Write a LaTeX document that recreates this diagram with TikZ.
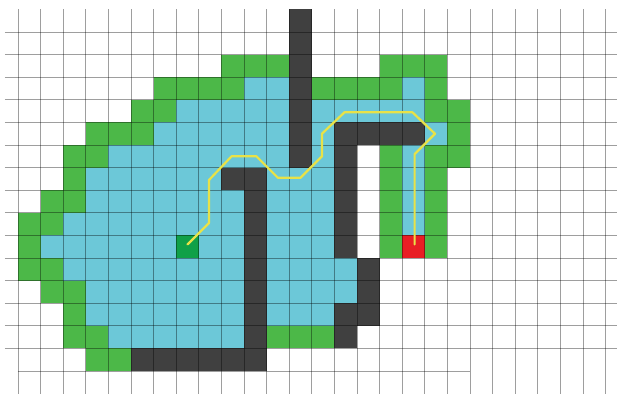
\documentclass[tikz,border=0pt]{standalone}
\definecolor{cellblue}{RGB}{108,200,216}
\definecolor{cellgreen}{RGB}{76,184,72}
\definecolor{wallgray}{RGB}{64,64,64}
\definecolor{goalred}{RGB}{232,30,36}
\definecolor{startgreen}{RGB}{16,160,72}
\definecolor{pathyellow}{RGB}{232,226,72}
\newcommand\cellrow[3]{\foreach \c in {#3}{\fill[#1] (\c,{-(#2)}) rectangle ++(1,-1);}}
\begin{document}
\begin{tikzpicture}[x=0.5cm,y=0.5cm,
  opencell/.style={cellgreen},
  closedcell/.style={cellblue},
  wallcell/.style={wallgray},
  startcell/.style={startgreen},
  goalcell/.style={goalred},
  gridline/.style={draw=black,draw opacity=0.38,line width=0.6pt},
  route/.style={draw=pathyellow,line width=1.4pt,line join=round,line cap=round}]
\useasboundingbox[fill=white] (-0.796,1.416) rectangle (26.504,-16.018);
% walls
\foreach \r in {-1,...,5}{\cellrow{wallcell}{\r}{12}}
\cellrow{wallcell}{4}{14,15,16,17}
\foreach \r in {5,...,9}{\cellrow{wallcell}{\r}{14}}
\cellrow{wallcell}{6}{9,10}
\foreach \r in {7,...,14}{\cellrow{wallcell}{\r}{10}}
\cellrow{wallcell}{14}{5,6,7,8,9}
\cellrow{wallcell}{10}{15}
\cellrow{wallcell}{11}{15}
\cellrow{wallcell}{12}{14,15}
\cellrow{wallcell}{13}{14}
% open (green) cells
\cellrow{opencell}{1}{9,10,11,16,17,18}
\cellrow{opencell}{2}{6,7,8,9,13,14,15,16,18}
\cellrow{opencell}{3}{5,6,18,19}
\cellrow{opencell}{4}{3,4,5,19}
\cellrow{opencell}{5}{2,3,16,18,19}
\cellrow{opencell}{6}{2,16,18}
\cellrow{opencell}{7}{1,2,16,18}
\cellrow{opencell}{8}{0,1,16,18}
\cellrow{opencell}{9}{0,16,18}
\cellrow{opencell}{10}{0,1}
\cellrow{opencell}{11}{1,2}
\cellrow{opencell}{12}{2}
\cellrow{opencell}{13}{2,3,11,12,13}
\cellrow{opencell}{14}{3,4}
% closed (blue) cells
\cellrow{closedcell}{2}{10,11,17}
\cellrow{closedcell}{3}{7,8,9,10,11,13,14,15,16,17}
\cellrow{closedcell}{4}{6,7,8,9,10,11,13,18}
\cellrow{closedcell}{5}{4,5,6,7,8,9,10,11,13,17}
\cellrow{closedcell}{6}{3,4,5,6,7,8,11,12,13,17}
\cellrow{closedcell}{7}{3,4,5,6,7,8,9,11,12,13,17}
\cellrow{closedcell}{8}{2,3,4,5,6,7,8,9,11,12,13,17}
\cellrow{closedcell}{9}{1,2,3,4,5,6,8,9,11,12,13}
\cellrow{closedcell}{10}{2,3,4,5,6,7,8,9,11,12,13,14}
\cellrow{closedcell}{11}{3,4,5,6,7,8,9,11,12,13,14}
\cellrow{closedcell}{12}{3,4,5,6,7,8,9,11,12,13}
\cellrow{closedcell}{13}{4,5,6,7,8,9}
% start and goal
\cellrow{startcell}{9}{7}
\cellrow{goalcell}{9}{17}
% grid
\foreach \i in {0,...,26}{\draw[gridline] (\i,1) -- (\i,-16.018);}
\foreach \j in {0,...,14}{\draw[gridline] (-0.575,-\j) -- (26.504,-\j);}
\draw[gridline] (0,-15) -- (20,-15);
% path
\coordinate (start) at (7.5,-9.4);
\coordinate (goal) at (17.55,-9.4);
\draw[route] (start) -- (8.45,-8.45) -- (8.45,-6.55) -- (9.45,-5.5) -- (10.55,-5.5)
  -- (11.5,-6.45) -- (12.5,-6.45) -- (13.45,-5.5) -- (13.45,-4.5) -- (14.45,-3.55)
  -- (17.45,-3.55) -- (18.45,-4.5) -- (17.55,-5.4) -- (goal);
\end{tikzpicture}
\end{document}
